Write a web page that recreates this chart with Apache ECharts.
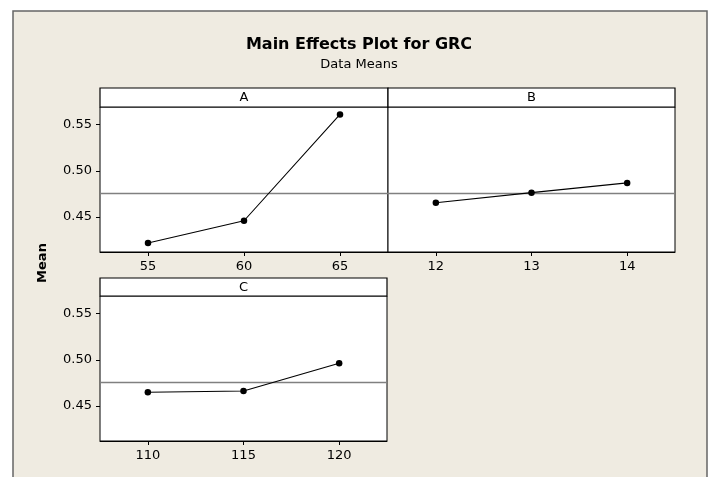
<!DOCTYPE html>
<html>
<head>
<meta charset="utf-8">
<script src="https://cdn.jsdelivr.net/npm/echarts@6/dist/echarts.min.js"></script>
<style>
html,body{margin:0;padding:0;background:#fff;}
#chart{width:713px;height:477px;}
</style>
</head>
<body>
<div id="chart"></div>
<script>
const catA = ['55', '60', '65'];
const valsA = [0.422, 0.446, 0.561];
const catB = ['12', '13', '14'];
const valsB = [0.4655, 0.4764, 0.4869];
const catC = ['110', '115', '120'];
const valsC = [0.4649, 0.4663, 0.4963];
const grandMean = 0.4755;
const yTicks = [0.45, 0.50, 0.55];
const panelNames = ['A', 'B', 'C'];

const FONT = 'DejaVu Sans';
const chart = echarts.init(document.getElementById('chart'), null, {renderer: 'canvas'});

const grids = [
  {left: 100, top: 107, width: 288, height: 145},
  {left: 388, top: 107, width: 287, height: 145},
  {left: 100, top: 296, width: 287, height: 145}
];
const cats = [catA, catB, catC];
const vals = [valsA, valsB, valsC];

const xAxes = cats.map((c, i) => ({
  type: 'category', gridIndex: i, data: c, boundaryGap: true,
  axisLine: {show: true, lineStyle: {color: '#000', width: 1}},
  axisTick: {show: true, alignWithLabel: true, length: 4, lineStyle: {color: '#000'}},
  axisLabel: {color: '#000', fontFamily: FONT, fontSize: 13, margin: 8},
  splitLine: {show: false}
}));
// hidden helper axes spanning each panel's full width, for the grand-mean reference line
cats.forEach((c, i) => {
  xAxes.push({type: 'value', gridIndex: i, min: 0, max: 1, show: false});
});
const yAxes = cats.map((c, i) => ({
  type: 'value', gridIndex: i, min: 0.4122, max: 0.569,
  axisLine: {show: false},
  axisTick: {show: i !== 1, length: 4, lineStyle: {color: '#000'}, customValues: yTicks},
  axisLabel: {show: i !== 1, color: '#000', fontFamily: FONT, fontSize: 13, margin: 8,
    customValues: yTicks, formatter: v => v.toFixed(2)},
  splitLine: {show: false}
}));
const series = [];
vals.forEach((v, i) => {
  series.push({
    type: 'line', xAxisIndex: 3 + i, yAxisIndex: i,
    data: [[0, grandMean], [1, grandMean]],
    symbol: 'none', silent: true,
    lineStyle: {color: '#808080', width: 1.5},
    animation: false, z: 3
  });
  series.push({
    type: 'line', xAxisIndex: i, yAxisIndex: i, data: v,
    symbol: 'circle', symbolSize: 6.5, showSymbol: true,
    lineStyle: {color: '#000', width: 1.1},
    itemStyle: {color: '#000'},
    animation: false, z: 5
  });
});

const headers = [
  {x: 100, y: 88, w: 288, h: 19},
  {x: 388, y: 88, w: 287, h: 19},
  {x: 100, y: 278, w: 287, h: 18}
];
const graphics = [
  {type: 'rect', z: -10, shape: {x: 13, y: 11, width: 694, height: 480},
    style: {fill: '#EFEBE1', stroke: '#666', lineWidth: 1.5}}
];
headers.forEach((h, i) => {
  graphics.push({type: 'rect', z: 10, shape: {x: h.x, y: h.y, width: h.w, height: h.h},
    style: {fill: '#fff', stroke: '#000', lineWidth: 1.2}});
  graphics.push({type: 'text', z: 11, x: h.x + h.w / 2, y: h.y + h.h / 2 + 0.5,
    style: {text: panelNames[i], font: '13px ' + FONT, fill: '#000', textAlign: 'center', textVerticalAlign: 'middle'}});
});
graphics.push({type: 'text', z: 11, x: 359, y: 45,
  style: {text: 'Main Effects Plot for GRC', font: 'bold 16px ' + FONT, fill: '#000', textAlign: 'center', textVerticalAlign: 'middle'}});
graphics.push({type: 'text', z: 11, x: 359, y: 65,
  style: {text: 'Data Means', font: '13px ' + FONT, fill: '#000', textAlign: 'center', textVerticalAlign: 'middle'}});
graphics.push({type: 'text', z: 11, x: 43, y: 263, rotation: Math.PI / 2,
  style: {text: 'Mean', font: 'bold 13px ' + FONT, fill: '#000', textAlign: 'center', textVerticalAlign: 'middle'}});

chart.setOption({
  backgroundColor: '#fff',
  animation: false,
  grid: grids.map(g => Object.assign({show: true, backgroundColor: '#fff', borderColor: '#000', borderWidth: 1, containLabel: false}, g)),
  xAxis: xAxes,
  yAxis: yAxes,
  series: series,
  graphic: graphics
});
</script>
</body>
</html>
